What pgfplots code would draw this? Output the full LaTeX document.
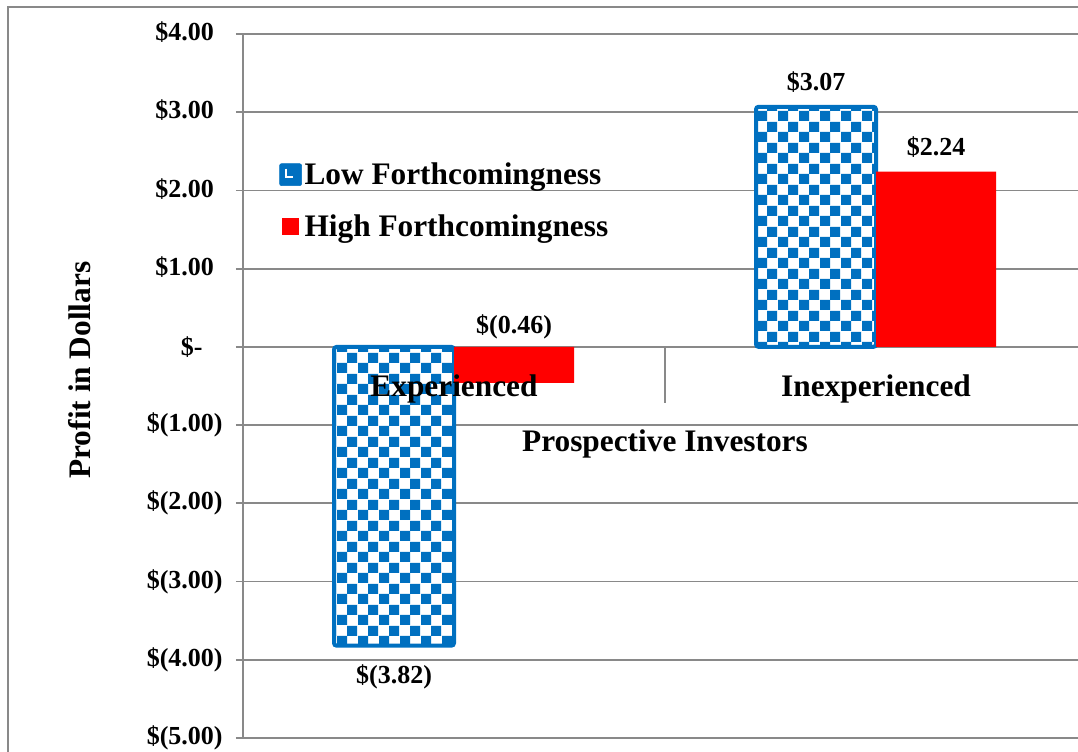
\documentclass[border=0pt]{standalone}
\usepackage{fontspec}
\setmainfont{Liberation Serif}
\usepackage{pgfplots}
\pgfplotsset{compat=1.18}
\usetikzlibrary{patterns}
\definecolor{lowblue}{HTML}{0070C0}
\definecolor{gridgray}{HTML}{898989}
\pgfdeclarepatternformonly{bigchecker}{\pgfpointorigin}{\pgfqpoint{15.8pt}{15.8pt}}{\pgfqpoint{15.8pt}{15.8pt}}{%
 \pgfpathrectangle{\pgfpointorigin}{\pgfqpoint{7.95pt}{7.95pt}}%
 \pgfpathrectangle{\pgfqpoint{7.9pt}{7.9pt}}{\pgfqpoint{7.95pt}{7.95pt}}%
 \pgfusepath{fill}}
\pgfplotsset{
  layers/labelsontop/.define layer set={
    axis background,axis grid,axis ticks,axis lines,
    pre main,main,axis tick labels,axis descriptions,axis foreground
  }{
    grid style={/pgfplots/on layer=axis grid},
    tick style={/pgfplots/on layer=axis ticks},
    axis line style={/pgfplots/on layer=axis lines},
    label style={/pgfplots/on layer=axis descriptions},
    legend style={/pgfplots/on layer=axis descriptions},
    title style={/pgfplots/on layer=axis descriptions},
    colorbar style={/pgfplots/on layer=axis descriptions},
    ticklabel style={/pgfplots/on layer=axis tick labels},
    axis background@ style={/pgfplots/on layer=axis background},
    3d box foreground style={/pgfplots/on layer=axis foreground},
  },
}
\newcommand\bigf{\bfseries\fontsize{23.5}{26}\selectfont}
\newcommand\smallf{\bfseries\fontsize{19.5}{22}\selectfont}
\begin{document}
\begin{tikzpicture}
\draw[gridgray, line width=1.5pt] (-176.25pt,-20pt) -- (-176.25pt,548.25pt) -- (626.25pt,548.25pt);
\begin{axis}[
  set layers=labelsontop,
  scale only axis, width=633pt, height=528pt,
  xmin=-0.5, xmax=1.5, ymin=-5, ymax=4,
  axis x line=middle, axis y line=left,
  hide obscured x ticks=false, hide obscured y ticks=false,
  axis line style={-, gridgray, line width=1.4pt},
  ytick={-5,-4,-3,-2,-1,0,1,2,3,4},
  yticklabels={\$(5.00),\$(4.00),\$(3.00),\$(2.00),\$(1.00),\$-\makebox[15pt]{},\$1.00\phantom{)},\$2.00\phantom{)},\$3.00\phantom{)},\$4.00\phantom{)}},
  ymajorgrids, grid style={gridgray, line width=1.4pt},
  ytick align=outside, major tick length=5.25pt,
  ytick style={gridgray, line width=1.4pt},
  yticklabel style={font=\smallf, xshift=-6.5pt},
  xtick={0,1}, xticklabels={Experienced,Inexperienced},
  xtick style={draw=none},
  xticklabel style={font=\bigf, yshift=-12pt},
  xlabel={Prospective Investors},
  xlabel style={font=\bigf, at={(axis description cs:0.5,0.418)}, anchor=center},
  ylabel={Profit in Dollars},
  ylabel style={font=\bigf, at={(axis description cs:-0.193,0.5227)}, anchor=center},
  legend style={at={(axis description cs:0.038,0.825)}, anchor=north west, draw=none, fill=none,
    font=\bigf, legend cell align=left, row sep=17pt},
  ybar=0pt, bar width=90pt,
  nodes near coords, point meta=explicit symbolic,
  visualization depends on={y \as \rawy},
]
\addlegendimage{legend image code/.code={\fill[lowblue, rounded corners=1.5pt] (0pt,-8.25pt) rectangle (16.5pt,8.25pt); \draw[white, line width=1.6pt] (5pt,4.5pt) -- (5pt,-1.5pt) -- (10pt,-1.5pt);}}
\addlegendentry{Low Forthcomingness}
\addlegendimage{legend image code/.code={\fill[red] (2.25pt,-6pt) rectangle (14.25pt,6pt);}}
\addlegendentry{High Forthcomingness}
% category separator below the zero line
\draw[gridgray, line width=1.4pt] (axis cs:0.5,0) -- (axis cs:0.5,-0.716);
% white base under the checker pattern
\addplot[forget plot, bar shift=-45pt, fill=white, draw=none, nodes near coords=] coordinates {(0,-3.82) (1,3.07)};
% Low Forthcomingness
\addplot[forget plot, bar shift=-45pt, draw=lowblue, line width=3pt, rounded corners=2pt,
  pattern=bigchecker, pattern color=lowblue,
  every node near coord/.append style={font=\smallf, text=black, anchor=south,
    yshift={(\rawy>0)*6-(\rawy<0)*37}}]
  coordinates {(0,-3.82) [\$(3.82)] (1,3.07) [\$3.07]};
% High Forthcomingness
\addplot[forget plot, bar shift=45pt, fill=red, draw=none,
  every node near coord/.append style={font=\smallf, text=black, anchor=south,
    yshift={(\rawy>0)*7+(\rawy<0)*29}}]
  coordinates {(0,-0.46) [\$(0.46)] (1,2.24) [\$2.24]};
\end{axis}
\pgfresetboundingbox
\useasboundingbox (-182.25pt,-9.75pt) rectangle (626.25pt,553.5pt);
\end{tikzpicture}
\end{document}
